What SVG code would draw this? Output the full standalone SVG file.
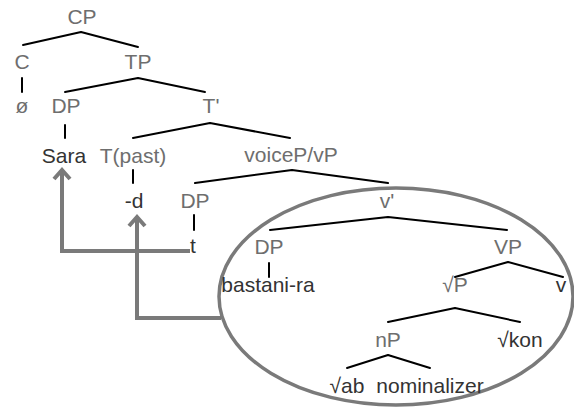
<svg xmlns="http://www.w3.org/2000/svg" width="574" height="408" viewBox="0 0 574 408">
  <style>
    text { font-family: "Liberation Sans", Arial, Helvetica, sans-serif; font-size: 21px; text-anchor: middle; }
    .cat { fill: #6e6e6e; }
    .word { fill: #333333; }
    .branch { stroke: #000; stroke-width: 2; fill: none; stroke-linecap: round; }
    .move { stroke: #7a7a7a; stroke-width: 4; fill: none; stroke-linejoin: miter; }
    .domain { stroke: #7a7a7a; stroke-width: 3.5; fill: none; }
  </style>

  <rect width="574" height="408" fill="#ffffff"/>

  <!-- tree branches -->
  <g id="connectors">
    <path class="branch" d="M81,32 L23,45 M81,32 L138,47"/>
    <path class="branch" d="M22,78 L22,92"/>
    <path class="branch" d="M138,78 L65,92 M138,78 L205,92"/>
    <path class="branch" d="M65,125 L65,138"/>
    <path class="branch" d="M210,123 L133,138 M210,123 L290,138"/>
    <path class="branch" d="M133,170 L133,183"/>
    <path class="branch" d="M292,170 L195,183 M292,170 L388,183"/>
    <path class="branch" d="M194,215 L194,230"/>
    <path class="branch" d="M388,217 L270,230 M388,217 L507,230"/>
    <path class="branch" d="M269,263 L269,277"/>
    <path class="branch" d="M508,262 L455,277 M508,262 L563,277"/>
    <path class="branch" d="M455,308 L388,322 M455,308 L520,322"/>
    <path class="branch" d="M388,355 L347,368 M388,355 L430,368"/>

    <!-- movement arrows -->
    <path class="move" d="M190,251 H62 V171"/>
    <polyline class="move" points="54,179 62,170 70,179"/>
    <path class="move" d="M221,318 H137 V218"/>
    <polyline class="move" points="129,226 137,217 145,226"/>
  </g>

  <!-- circled vP domain -->
  <ellipse id="domain" class="domain" cx="396" cy="296.5" rx="177" ry="108.5"/>

  <g id="CP"><text class="cat" x="82" y="24">CP</text></g>
  <g id="C"><text class="cat" x="22" y="69">C</text></g>
  <g id="TP"><text class="cat" x="138" y="69">TP</text></g>
  <g id="null"><text class="cat" x="22" y="113">ø</text></g>
  <g id="DP-subj"><text class="cat" x="66" y="113">DP</text></g>
  <g id="Tbar"><text class="cat" x="211" y="113">T'</text></g>
  <g id="Sara"><text class="word" x="64" y="163">Sara</text></g>
  <g id="T"><text class="cat" x="133" y="163">T(past)</text></g>
  <g id="voiceP"><text class="cat" x="291" y="162">voiceP/vP</text></g>
  <g id="d"><text class="word" x="134" y="208">-d</text></g>
  <g id="DP-trace"><text class="cat" x="195" y="208">DP</text></g>
  <g id="t"><text class="word" x="193" y="253">t</text></g>
  <g id="vbar"><text class="cat" x="387" y="208">v'</text></g>
  <g id="DP-obj"><text class="cat" x="269" y="254">DP</text></g>
  <g id="VP"><text class="cat" x="508" y="254">VP</text></g>
  <g id="bastani"><text class="word" x="268" y="292">bastani-ra</text></g>
  <g id="rootP"><text class="cat" x="455" y="292">√P</text></g>
  <g id="v"><text class="word" x="561" y="292">v</text></g>
  <g id="nP"><text class="cat" x="388" y="347">nP</text></g>
  <g id="kon"><text class="word" x="520" y="347">√kon</text></g>
  <g id="ab"><text class="word" x="347" y="393">√ab</text></g>
  <g id="nominalizer"><text class="word" x="430" y="393">nominalizer</text></g>
</svg>
